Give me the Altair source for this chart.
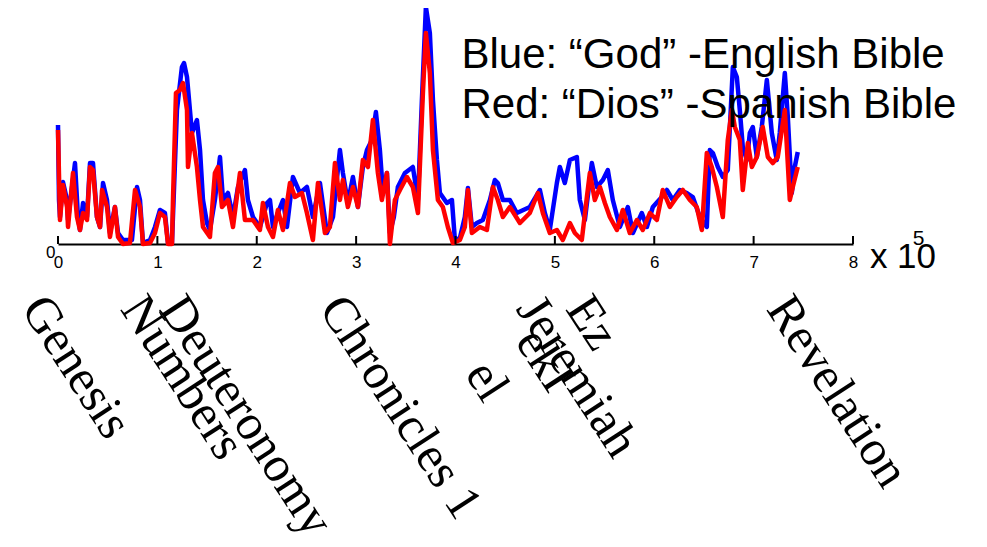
import altair as alt
import pandas as pd

# Blue: "God" (English Bible) -- position in words (x 10^5), relative frequency
blue_x = [0.0, 0.01, 0.02, 0.05, 0.091, 0.101, 0.171, 0.201, 0.221, 0.252, 0.292, 0.322, 0.352, 0.392, 0.423,
          0.453, 0.493, 0.523, 0.573, 0.604, 0.654, 0.744, 0.795, 0.825, 0.855, 0.926, 0.976, 1.026, 1.076,
          1.107, 1.147, 1.197, 1.247, 1.268, 1.298, 1.348, 1.398, 1.429, 1.459, 1.499, 1.529, 1.579, 1.630,
          1.660, 1.710, 1.761, 1.811, 1.881, 1.911, 1.962, 2.032, 2.103, 2.133, 2.163, 2.213, 2.264, 2.304,
          2.364, 2.435, 2.505, 2.565, 2.636, 2.706, 2.767, 2.837, 2.867, 2.917, 2.968, 3.018, 3.068, 3.109,
          3.159, 3.199, 3.239, 3.270, 3.310, 3.340, 3.380, 3.420, 3.491, 3.571, 3.622, 3.662, 3.702, 3.742,
          3.773, 3.813, 3.843, 3.913, 3.964, 3.994, 4.044, 4.094, 4.125, 4.165, 4.215, 4.275, 4.346, 4.396,
          4.426, 4.477, 4.547, 4.617, 4.748, 4.849, 4.899, 4.949, 5.020, 5.050, 5.100, 5.151, 5.221, 5.251,
          5.302, 5.372, 5.422, 5.483, 5.533, 5.583, 5.654, 5.734, 5.785, 5.875, 5.926, 5.986, 6.076, 6.127,
          6.187, 6.257, 6.328, 6.388, 6.459, 6.529, 6.559, 6.590, 6.640, 6.690, 6.740, 6.791, 6.831, 6.861,
          6.891, 6.932, 6.962, 6.992, 7.032, 7.082, 7.133, 7.183, 7.233, 7.263, 7.314, 7.344, 7.384, 7.414,
          7.444]
blue_y = [1.19, 0.44, 0.27, 0.62, 0.44, 0.24, 0.81, 0.27, 0.14, 0.41, 0.27, 0.81, 0.81, 0.27, 0.17,
          0.61, 0.44, 0.11, 0.37, 0.11, 0.04, 0.04, 0.57, 0.44, 0.01, 0.04, 0.17, 0.34, 0.31,
          0.01, 0.01, 1.34, 1.77, 1.81, 1.67, 1.11, 1.24, 0.94, 0.44, 0.21, 0.14, 0.44, 0.87,
          0.44, 0.51, 0.27, 0.57, 0.74, 0.44, 0.27, 0.17, 0.41, 0.44, 0.17, 0.31, 0.44, 0.17,
          0.67, 0.51, 0.57, 0.27, 0.61, 0.11, 0.27, 0.94, 0.71, 0.41, 0.67, 0.37, 0.77, 0.94,
          1.04, 1.32, 0.94, 0.51, 0.71, 0.11, 0.27, 0.57, 0.71, 0.77, 0.44, 1.44, 2.37, 2.11,
          1.44, 0.84, 0.51, 0.41, 0.44, 0.04, 0.06, 0.27, 0.56, 0.17, 0.21, 0.24, 0.44, 0.64,
          0.61, 0.44, 0.44, 0.31, 0.37, 0.54, 0.31, 0.14, 0.61, 0.77, 0.61, 0.84, 0.87, 0.44,
          0.24, 0.81, 0.57, 0.64, 0.74, 0.44, 0.17, 0.37, 0.11, 0.31, 0.17, 0.37, 0.47, 0.54,
          0.44, 0.54, 0.51, 0.47, 0.27, 0.17, 0.94, 0.91, 0.77, 0.67, 0.74, 1.77, 1.67, 1.34,
          0.97, 0.84, 1.11, 1.17, 0.87, 1.17, 1.64, 1.11, 0.84, 1.11, 1.71, 1.27, 0.51, 0.77,
          0.92]

# Red: "Dios" (Spanish Bible)
red_x = [0.0, 0.02, 0.05, 0.091, 0.101, 0.151, 0.191, 0.221, 0.252, 0.292, 0.322, 0.352, 0.392, 0.423,
         0.443, 0.493, 0.523, 0.573, 0.604, 0.654, 0.724, 0.775, 0.825, 0.855, 0.926, 0.976, 1.026, 1.076,
         1.107, 1.147, 1.157, 1.187, 1.227, 1.258, 1.298, 1.308, 1.348, 1.398, 1.429, 1.459, 1.529, 1.579,
         1.610, 1.650, 1.710, 1.761, 1.831, 1.881, 1.962, 2.032, 2.062, 2.113, 2.163, 2.213, 2.264, 2.334,
         2.384, 2.455, 2.505, 2.565, 2.616, 2.686, 2.736, 2.787, 2.837, 2.867, 2.917, 2.968, 3.018, 3.068,
         3.119, 3.169, 3.219, 3.259, 3.310, 3.340, 3.390, 3.441, 3.511, 3.571, 3.622, 3.672, 3.702, 3.742,
         3.773, 3.823, 3.873, 3.923, 3.974, 4.044, 4.094, 4.125, 4.165, 4.245, 4.316, 4.376, 4.426, 4.477,
         4.547, 4.648, 4.748, 4.829, 4.879, 4.949, 5.020, 5.080, 5.151, 5.201, 5.271, 5.322, 5.352, 5.402,
         5.453, 5.503, 5.553, 5.624, 5.684, 5.754, 5.825, 5.885, 5.956, 6.026, 6.086, 6.157, 6.227, 6.288,
         6.358, 6.428, 6.479, 6.529, 6.579, 6.630, 6.690, 6.740, 6.781, 6.811, 6.861, 6.891, 6.942, 6.982,
         7.032, 7.092, 7.143, 7.193, 7.243, 7.314, 7.364, 7.394, 7.444]
red_y = [1.14, 0.24, 0.59, 0.37, 0.17, 0.71, 0.27, 0.14, 0.31, 0.24, 0.77, 0.74, 0.27, 0.17,
         0.54, 0.37, 0.07, 0.37, 0.07, 0.0, 0.01, 0.54, 0.37, 0.0, 0.01, 0.11, 0.31, 0.27,
         0.0, 0.0, 0.44, 1.51, 1.54, 1.61, 1.34, 0.77, 1.11, 0.77, 0.44, 0.17, 0.07, 0.71,
         0.77, 0.37, 0.44, 0.17, 0.71, 0.24, 0.24, 0.14, 0.41, 0.17, 0.07, 0.34, 0.14, 0.61,
         0.47, 0.51, 0.31, 0.04, 0.61, 0.11, 0.17, 0.81, 0.44, 0.64, 0.37, 0.57, 0.37, 0.84,
         0.77, 1.24, 0.71, 0.44, 0.71, 0.0, 0.44, 0.54, 0.67, 0.57, 0.31, 1.51, 2.11, 1.71,
         0.94, 0.44, 0.37, 0.17, 0.01, 0.04, 0.17, 0.54, 0.11, 0.17, 0.14, 0.57, 0.44, 0.27,
         0.37, 0.21, 0.31, 0.51, 0.31, 0.11, 0.14, 0.04, 0.21, 0.11, 0.04, 0.47, 0.71, 0.44,
         0.57, 0.41, 0.27, 0.14, 0.34, 0.11, 0.24, 0.14, 0.31, 0.24, 0.54, 0.37, 0.47, 0.54,
         0.44, 0.37, 0.14, 0.91, 0.77, 0.57, 0.27, 1.04, 1.34, 1.17, 1.04, 0.54, 1.01, 0.77,
         0.87, 1.17, 0.87, 0.81, 0.87, 1.34, 0.44, 0.57, 0.77]

tick_values = [0, 1, 2, 3, 4, 5, 6, 7, 8]

book_names = ["Genesis", "Numbers", "Deuteronomy", "Chronicles 1", "Ez\nekI\nel", "Jeremiah", "Revelation"]
book_x = [-0.38, 0.62, 1.01, 2.62, 5.10, 4.60, 7.12]
book_label_y = -0.65

note_lines = ["Blue: \u201cGod\u201d -English Bible", "Red: \u201cDios\u201d -Spanish Bible"]
note_x = [4.06, 4.06]
note_y = [1.76, 1.26]

exp_text = ["x 10", "5"]
exp_x = [8.17, 8.60]
exp_y = [-0.24, -0.01]
exp_size = [35, 21]

blue_df = pd.DataFrame({"x": blue_x, "y": blue_y})
red_df = pd.DataFrame({"x": red_x, "y": red_y})
tick_df = pd.DataFrame({"x": tick_values, "y": [0] * len(tick_values), "y2": [0.08] * len(tick_values)})
book_df = pd.DataFrame({"x": book_x, "y": [book_label_y] * len(book_x), "t": book_names})
note_df = pd.DataFrame({"x": note_x, "y": note_y, "t": note_lines})
exp_df = pd.DataFrame({"x": exp_x, "y": exp_y, "t": exp_text, "s": exp_size})

xs = alt.Scale(domain=[0, 8], nice=False, zero=False)
ys = alt.Scale(domain=[0, 2.36], nice=False, zero=False)

blue = alt.Chart(blue_df).mark_line(color="#0000FF", strokeWidth=4.5, strokeJoin="round", clip=False).encode(
    x=alt.X("x:Q", scale=xs, axis=alt.Axis(values=tick_values, title=None, ticks=False, grid=False,
                                            domainColor="black", domainWidth=2, labelFont="Liberation Sans",
                                            labelFontSize=17, labelColor="black", labelPadding=10,
                                            labelFlush=False, format="d")),
    y=alt.Y("y:Q", scale=ys, axis=alt.Axis(values=[0], title=None, ticks=False, domain=False, grid=False,
                                            labelFont="Liberation Sans", labelFontSize=17, labelColor="black",
                                            labelPadding=3, labelBaseline="top", format="d")),
)

red = alt.Chart(red_df).mark_line(color="#FF0000", strokeWidth=4.5, strokeJoin="round").encode(
    x="x:Q", y="y:Q")

ticks = alt.Chart(tick_df).mark_rule(color="black", strokeWidth=2).encode(
    x="x:Q", y="y:Q", y2="y2:Q")

notes = alt.Chart(note_df).mark_text(align="left", baseline="alphabetic", font="Liberation Sans",
                                     fontSize=42, color="black").encode(x="x:Q", y="y:Q", text="t:N")

expo = alt.Chart(exp_df).mark_text(align="left", baseline="alphabetic", font="Liberation Sans",
                                   color="black").encode(
    x="x:Q", y="y:Q", text="t:N", size=alt.Size("s:Q", scale=None, legend=None))

books = alt.Chart(book_df).mark_text(align="left", baseline="alphabetic", font="Liberation Serif",
                                     fontSize=50, angle=57, color="black", lineBreak="\n",
                                     lineHeight=60).encode(x="x:Q", y="y:Q", text="t:N")

chart = alt.layer(blue, red, ticks, notes, expo, books).properties(
    width=795, height=236,
    autosize=alt.AutoSizeParams(type="none"),
    padding={"left": 50, "top": 0, "right": 126, "bottom": 290},
).configure_view(stroke=None).configure_axis(grid=False)

chart.save("out.html", embed_options={"renderer": "svg", "actions": False})
